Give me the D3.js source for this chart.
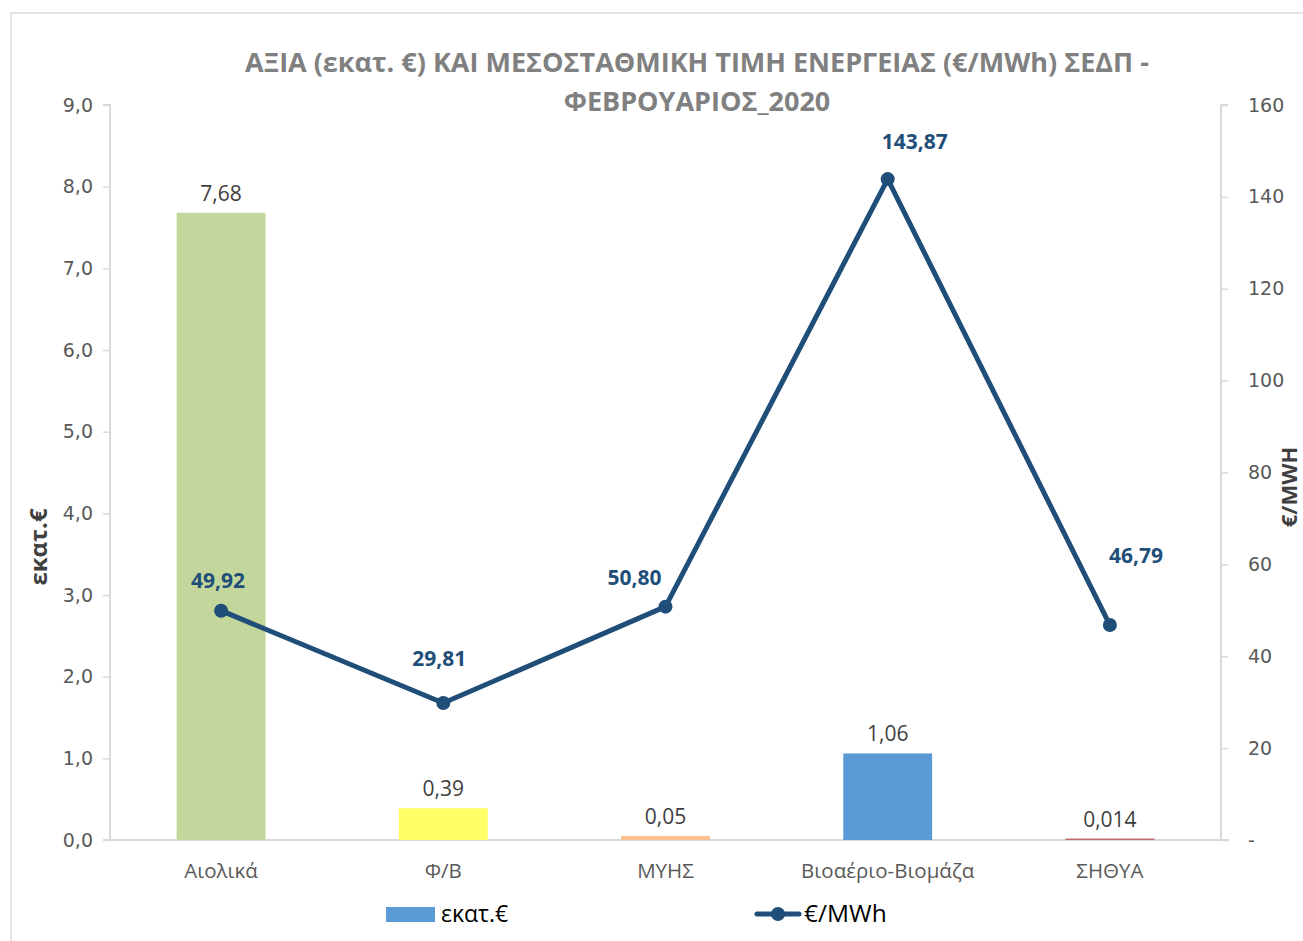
<!DOCTYPE html>
<html><head><meta charset="utf-8">
<script src="https://cdn.jsdelivr.net/npm/d3@7"></script>
<style>body{margin:0;background:#fff}svg{display:block}</style>
</head><body>
<svg id="c" width="1303" height="941"></svg>
<script>
const categories = ["Αιολικά", "Φ/Β", "ΜΥΗΣ", "Βιοαέριο-Βιομάζα", "ΣΗΘΥΑ"];
const valueMEuro = [7.68, 0.39, 0.05, 1.06, 0.014];
const valueLabels = ["7,68", "0,39", "0,05", "1,06", "0,014"];
const priceEuroMWh = [49.92, 29.81, 50.80, 143.87, 46.79];
const priceLabels = ["49,92", "29,81", "50,80", "143,87", "46,79"];
const barColors = ["#c3d69b", "#ffff66", "#fac090", "#5b9bd5", "#c0706c"];
const leftTicks = [0,1,2,3,4,5,6,7,8,9];
const rightTicks = [0,20,40,60,80,100,120,140,160];
const priceLabelOffsets = [[-3,-23],[-4,-37],[-31,-22],[27,-30],[26,-62]];

const svg = d3.select("#c");
const L = 110, R = 1221, T = 105, B = 840;
const font = "'Open Sans', 'Noto Sans', sans-serif";

svg.append("rect").attr("x",11).attr("y",13).attr("width",1300).attr("height",940)
  .attr("fill","none").attr("stroke","#d9d9d9").attr("stroke-width",1.5);

const x = d3.scaleBand().domain(categories).range([L,R]).paddingInner(0.6).paddingOuter(0.3);
const y = d3.scaleLinear().domain([0,9]).range([B,T]);
const y2 = d3.scaleLinear().domain([0,160]).range([B,T]);

// title
const title = svg.append("text").attr("text-anchor","middle").attr("fill","#808080")
  .attr("font-family",font).attr("font-weight","bold").attr("font-size",27);
title.append("tspan").attr("x",697).attr("y",72).text("ΑΞΙΑ (εκατ. €) ΚΑΙ ΜΕΣΟΣΤΑΘΜΙΚΗ ΤΙΜΗ ΕΝΕΡΓΕΙΑΣ (€/MWh) ΣΕΔΠ -");
title.append("tspan").attr("x",697).attr("y",111).text("ΦΕΒΡΟΥΑΡΙΟΣ_2020");

// axes
const axL = svg.append("g").attr("transform",`translate(${L},0)`)
  .call(d3.axisLeft(y).tickValues(leftTicks).tickSize(7).tickPadding(10).tickFormat(d=>d3.format(".1f")(d).replace(".",",")));
const axR = svg.append("g").attr("transform",`translate(${R},0)`)
  .call(d3.axisRight(y2).tickValues(rightTicks).tickSize(7).tickPadding(20).tickFormat(d=>d===0?"-":d));
[axL,axR].forEach(a=>{
  a.select(".domain").attr("stroke","#d9d9d9").attr("stroke-width",2);
  a.selectAll(".tick line").attr("stroke","#d9d9d9").attr("stroke-width",1.5);
  a.selectAll(".tick text").attr("fill","#595959").attr("font-family","'DejaVu Sans', sans-serif").attr("font-size",19);
});
axL.select(".domain").attr("d",`M-7,${T}H0V${B}H-7`);
axR.select(".domain").attr("d",`M7,${T}H0V${B}H7`);

svg.append("line").attr("x1",L).attr("x2",R+8).attr("y1",B).attr("y2",B)
  .attr("stroke","#d9d9d9").attr("stroke-width",2);

// category labels
svg.append("g").selectAll("text").data(categories).join("text")
  .attr("x",d=>x(d)+x.bandwidth()/2).attr("y",878).attr("text-anchor","middle")
  .attr("fill","#595959").attr("font-family",font).attr("font-size",20.5).text(d=>d);

// axis titles
svg.append("text").attr("transform","translate(47,547) rotate(-90)").attr("text-anchor","middle")
  .attr("fill","#404040").attr("font-family",font).attr("font-weight","bold").attr("font-size",24).text("εκατ.€");
svg.append("text").attr("transform","translate(1297,487) rotate(-90)").attr("text-anchor","middle")
  .attr("fill","#404040").attr("font-family",font).attr("font-weight","bold").attr("font-size",22).text("€/MWH");

// bars
svg.append("g").selectAll("rect").data(valueMEuro).join("rect")
  .attr("x",(d,i)=>x(categories[i])).attr("width",x.bandwidth())
  .attr("y",d=>Math.min(y(d),B-1.5)).attr("height",d=>Math.max(B-y(d),1.5))
  .attr("fill",(d,i)=>barColors[i]);
svg.append("g").selectAll("text").data(valueMEuro).join("text")
  .attr("x",(d,i)=>x(categories[i])+x.bandwidth()/2).attr("y",d=>y(d)-12)
  .attr("text-anchor","middle").attr("fill","#404040").attr("font-family",font).attr("font-size",21)
  .text((d,i)=>valueLabels[i]);

// line
const cx = i => x(categories[i])+x.bandwidth()/2;
svg.append("path").datum(priceEuroMWh)
  .attr("d",d3.line().x((d,i)=>cx(i)).y(d=>y2(d)))
  .attr("fill","none").attr("stroke","#1f4e79").attr("stroke-width",5).attr("stroke-linejoin","round");
svg.append("g").selectAll("circle").data(priceEuroMWh).join("circle")
  .attr("cx",(d,i)=>cx(i)).attr("cy",d=>y2(d)).attr("r",7).attr("fill","#1f4e79");
svg.append("g").selectAll("text").data(priceEuroMWh).join("text")
  .attr("x",(d,i)=>cx(i)+priceLabelOffsets[i][0]).attr("y",(d,i)=>y2(d)+priceLabelOffsets[i][1])
  .attr("text-anchor","middle").attr("fill","#1f4e79").attr("font-family",font).attr("font-weight","bold").attr("font-size",21)
  .text((d,i)=>priceLabels[i]);

// legend
const lg = svg.append("g");
lg.append("rect").attr("x",386).attr("y",907).attr("width",49).attr("height",15).attr("fill","#5b9bd5");
lg.append("text").attr("x",441).attr("y",922).attr("fill","#000").attr("font-family",font).attr("font-size",23).text("εκατ.€");
lg.append("line").attr("x1",757).attr("x2",799).attr("y1",914).attr("y2",914).attr("stroke","#1f4e79").attr("stroke-width",5).attr("stroke-linecap","round");
lg.append("circle").attr("cx",778).attr("cy",914).attr("r",7).attr("fill","#1f4e79");
lg.append("text").attr("x",804).attr("y",922).attr("fill","#000").attr("font-family",font).attr("font-size",24.5).text("€/MWh");
</script>
</body></html>
